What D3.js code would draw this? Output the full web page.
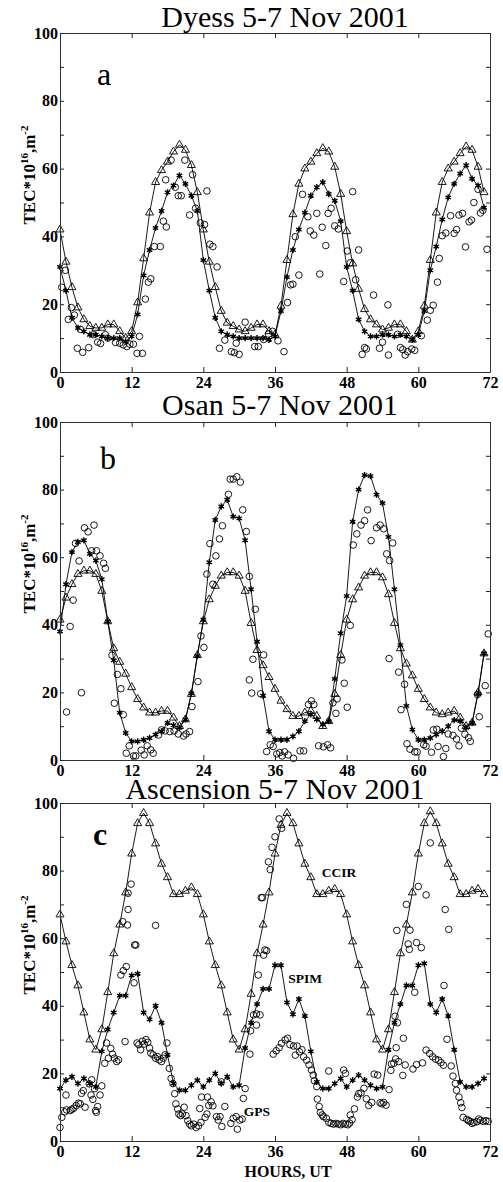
<!DOCTYPE html>
<html><head><meta charset="utf-8">
<script src="https://cdn.jsdelivr.net/npm/d3@7"></script>
<style>body{margin:0;background:#fff}</style>
</head><body>
<svg id="chart" width="503" height="1182"></svg>
<script>
// ---------- data ----------
const hours = [0,1,2,3,4,5,6,7,8,9,10,11,12,13,14,15,16,17,18,19,20,21,22,23,
  24,25,26,27,28,29,30,31,32,33,34,35,36,37,38,39,40,41,42,43,44,45,46,47,
  48,49,50,51,52,53,54,55,56,57,58,59,60,61,62,63,64,65,66,67,68,69,70,71];
const xTicks = [0,12,24,36,48,60,72];
const yTicks = [0,10,20,30,40,50,60,70,80,90,100];
const titles = ["Dyess 5-7 Nov 2001","Osan 5-7 Nov 2001","Ascension 5-7 Nov 2001"];
const letters = ["a","b","c"];
const seriesNames = ["CCIR","SPIM","GPS"];

// Panel a (Dyess)
const ccirA = [42,32.5,25,19,15.5,13.5,13,13,14,14,12,10,12,20.5,33.5,47,56,59.5,62,65,67,65.5,61,53,
  42,32.5,25,18,14.5,13.5,12.5,12,13,14,14,12,11,19.5,33,46.5,55.5,60,62,64.5,66,65,60.5,52.5,
  41.5,32,24.5,18.5,15.5,14,12.5,13,14,14,12,9.5,12,19.5,33,47,56,60,62,64.5,66.5,65.5,60.5,53];
const spimA = [31,24,16,13,12,11,11,10.5,10,10,10,9,10.5,17,28.5,36,42.5,47.5,53,55,58,55.5,52,47.5,
  33,24,16,12,11,10.5,10,10,10,10,10,9.5,10.5,18,28,36,42,47,52,54.5,56,52.5,50.5,44.5,
  31,24,15.5,12,10.5,10.5,11,11,10.5,11,10.5,9.5,11,18,30,37,45,51.5,55.5,58.5,61,57,55,48.5];
const gpsA = [[0.3,25],[0.9,30],[1.4,15.5],[1.9,19],[2.4,16.8],[2.9,7],[3.4,12.6],[3.8,5.8],[4.8,7.2],[5.6,11],
  [6.3,8.8],[6.8,8.4],[7.6,11],[8,10],[9.3,8.7],[10,8.5],[10.6,8],[11.2,7.5],[11.7,8.2],[12.3,8.2],[12.9,5.5],
  [13.3,10.5],[13.8,5.5],[14.3,21.5],[14.8,26.5],[15.2,27.5],[15.8,37],[16.8,37],[17.3,44.5],[17.8,42.8],
  [17.7,56.7],[18.6,62.5],[19.3,54.5],[19.8,52],[20.3,52],[20.9,62.5],[21.7,46.3],[22.2,58.2],[22.7,48.3],
  [23.5,44],[24.6,53.4],[24.2,43.5],[25.1,37.7],[25.6,37],[26.3,31],[26.7,7],[27.6,9.4],[28.7,6],[29.2,5.7],
  [30,5.2],[29.5,8.5],[31,14.7],[32.6,7.5],[33.2,7.5],[34.1,9.6],[34.9,11.2],[35.6,12],[36.5,9.2],[37.5,6],
  [38.1,20.5],[38.6,25.7],[39,25.9],[39.4,39.9],[40,28.6],[40.6,52.4],[41.5,45.8],[41.9,41.6],[42.5,40.4],
  [43,46.8],[43.5,28.9],[43.9,42.7],[44.5,37.3],[44.9,46.8],[45.4,48.3],[46,43.1],[46.6,42.2],[47.5,26.7],
  [48.1,35.7],[48.6,32.2],[49,53.2],[49.5,27.2],[50,36],[50.6,5.2],[51,7.2],[51.3,6.8],[52.5,22.7],[53.5,7],
  [54,8.8],[54.9,19.8],[55,5],[56.5,11.1],[57,7.2],[57.4,6.6],[57.8,5],[58.2,6],[58.9,6.8],[59.4,6.4],
  [60.5,10.7],[61.5,15.3],[62,18.2],[62.5,19.7],[63.2,26.5],[63.5,33.5],[64,40.2],[64.6,41],[65.4,46.1],
  [66,40.9],[66.4,42],[66.8,46.3],[67.4,46.8],[67.9,36.9],[68.5,44.3],[68.9,44.8],[69.3,50],[70,53.9],
  [70.4,46.9],[70.8,47.7],[71.5,36.2]];

// Panel b (Osan)
const ccirB = [41.5,48,52,55,56,56,55,50,41,33,29,25.5,21.5,18,15.5,14,14,14.5,14.5,12.5,10,12,19.5,31,
  41,47.5,51.5,54.5,55.5,55.5,54.5,50,40.5,32.5,28,24.5,21,17.5,15,13,13,14,14.5,13,10,11.5,19.5,31,
  41.5,47.5,51,54.5,55.5,55.5,54,49,40.5,33,28.5,25,21,18,15.5,14,13.5,14,14.5,12.5,10,11,20,31.5];
const spimB = [38,52,61.5,64.5,65,61,59,53.5,41,29.5,14,8,5.5,5.5,6,6.5,7.5,8.5,11,10.3,9.5,12,19.7,30.8,
  41.5,58.5,71,75,77,72,71.5,65,50.5,35,19,8.5,6,6,6,7,8.5,11.5,13.5,12,10.5,11.5,24,37.5,
  48.5,70.5,80,84.3,84,78.5,76,66,50.5,34,16,9,6,6,6.5,7.5,8.5,10,11.8,11.5,9.5,11,19.5,31.5];
const gpsB = [[1.1,14.2],[1.7,39.5],[2.2,47.3],[2.6,64.1],[3.2,58.9],[3.6,19.9],[4.1,68.7],[4.7,67.5],[5.3,61.9],
  [5.7,69.5],[6.1,61.9],[6.7,60.4],[7.3,58.2],[7.6,56.7],[8.7,31],[9.1,16.8],[9.6,25.3],[10.2,21.1],[10.6,13.4],
  [11.1,2],[11.6,4.2],[12.3,1.2],[12.7,1.2],[13.6,2.9],[14.1,1.5],[14.6,4.2],[15.2,3],[15.6,2],[16.5,7.4],
  [17,8.9],[17.6,8.6],[18.4,8.4],[19.1,8.6],[19.8,7.7],[20.7,7.1],[21.1,7.7],[21.7,8.4],[22.1,15.8],[23.1,23.2],
  [23.6,36.7],[24.1,33.3],[24.6,55],[25.1,64],[25.6,52],[26.1,60.4],[26.7,65.4],[27.2,69.3],[28.2,78.6],
  [28.5,83.1],[29,83.1],[29.6,83.8],[30.2,82.2],[30.6,74],[31.2,67.6],[31.7,54.3],[31.7,23.7],[32.1,19.8],
  [32.3,29.8],[32.7,44.6],[33.6,19.6],[34.1,31.1],[34.6,2.5],[35.2,4.5],[35.7,4],[36.3,1.8],[36.8,2.2],
  [37.2,1.2],[37.6,2.4],[38.2,1.5],[39.1,0.5],[40.2,2.7],[40.8,2.7],[41.6,16.4],[42.1,17.5],[42.5,16.4],
  [43.3,4.2],[44.1,3.9],[44.8,4.5],[45.3,3.6],[45.7,16.9],[46.2,13.8],[46.4,18.1],[47.2,29.6],[47.6,22.7],
  [48.1,15.6],[48.6,39.8],[49.1,63.6],[49.7,66.9],[50.4,69.5],[51,70.8],[51.5,74],[52.1,64.9],[53,68.7],
  [53.6,69.5],[54.2,68.4],[54.7,61],[55.2,59],[55.7,64.2],[55.1,30],[56.7,26],[57.1,14.9],[57.7,22.4],
  [58.1,4.8],[58.6,3.2],[59.4,2.4],[59.8,2.4],[60.9,4.5],[61.3,4.1],[62.2,2.3],[62.5,8.9],[63.1,9.1],
  [63.3,4],[64.2,1],[64.6,3.4],[65,7.7],[65.8,7.3],[66.4,6.2],[66.8,4.2],[67.2,9.4],[67.8,7.6],[68.4,6.6],
  [68.7,5.5],[69.9,19.4],[70.2,12.8],[71.2,22],[71.7,37.3]];

// Panel c (Ascension)
const ccirC = [67,59,52,46,38,30,27,33,44,55.5,64,73.5,85,94,97,94,88,82,78,73,73,74,75,73,
  67,59,52,46,38,30,27,33,43.5,55.5,64,73.5,85,93.5,97,94,88,82,78,73,73,74,74.5,73,
  67,59,52,46,38,30,27,33,44,55.5,64,73.5,85,94,97.5,94,88,82,78,73,73,74,74.5,73];
const spimC = [15.5,18,19,17,18.5,17,16,26.5,33,38,43,43,49,49.5,38,36,40,35,25.5,17,15,15,16.5,18,
  16,18,20,17,19,16,16.5,27.5,35,40.5,45,45,52,52,41,37.5,42,37,26.5,17.5,15.5,15.5,17,18.5,
  16,18,19.5,18,16.5,15.5,16,27,35,40.5,46,46,52,52.5,40.5,38,42,37,27,17.5,16,16,17,18.5];
const gpsC = [[0,4],[0.3,7],[0.8,8.6],[1.1,9.2],[1,13.6],[1.7,9],[2,9.4],[2.3,9.7],[2.7,10.5],[3.1,11.2],
  [3.4,11],[3.6,14.1],[3.9,14.9],[4.2,10],[4.9,16.9],[5.3,18.1],[5.2,13.6],[5.5,12.3],[5.8,15.5],[5.95,9],
  [6.1,8.5],[6.3,10.2],[6.7,13.6],[7,16.3],[7.5,23],[7.8,29],[8.1,24.5],[8.5,27.4],[8.8,25.7],[9.1,24.5],
  [9.5,23.5],[9.8,24],[10.2,49.1],[10.6,50.4],[11.1,51.6],[10.5,64.9],[11.3,63.9],[11.4,68.5],[11.4,73.3],
  [11.9,76],[12.5,58],[12.7,58],[10.9,29.4],[12.4,46.8],[16,63.8],
  [12.9,29],[13.2,28.5],[13.5,27],[13.8,29.5],[14.1,28.7],[14.4,30],[14.7,29.2],[15,27.5],[15.2,26],
  [15.6,25.5],[16,24.5],[16.3,25],[16.6,24],[17,23.5],[17.3,24.5],[17.6,25.5],[17.9,29],[18.3,21.5],
  [18.6,18.5],[18.9,17],[19.2,14],[19.4,11],[19.7,9.5],[19.9,8],[20.2,7.5],[20.5,8],[20.8,10],[21.1,7.5],
  [21.4,6],[21.7,5],[22,4.5],[22.4,5],[22.8,4],[23.2,4.5],[23.6,5.5],[23.4,9.6],[23.7,13],[24.3,7],[24.6,8],
  [24.9,10.5],[24.7,13],[25.3,11.6],[25.6,10.4],[26.2,7.2],[26.5,6.2],[26.8,7.2],[27,17.5],[27.1,4.3],
  [27.6,10.2],[28.6,5.2],[29,6.7],[29.5,7.2],[29.7,3.5],[30.1,6.2],[30.5,6.5],[30.7,12.6],[31,15.5],
  [31.8,25.7],[31.9,32.6],[32.4,37.3],[32.9,37.6],[33.5,37.3],[32.9,34.3],[33.2,49.1],[33.7,72],[33.9,72],
  [34.3,56.5],[34.1,55],[34.6,56.3],[34.9,82.6],[35.2,80.3],[35.5,86.9],[36,90],[36.7,95.3],[37.1,92.5],
  [35.7,25.7],[36.2,26.7],[36.7,27.6],[37.1,28.9],[37.7,29.9],[38.1,30.4],[38.5,28.5],[39.1,28.1],[39.4,25.4],
  [39.7,28.1],[40.1,26.4],[40.5,27],[40.8,24.9],[41.3,23.9],[41.7,22.5],[42.1,21],[42.4,19.5],[42.6,17.8],
  [43,16.1],[43.1,12.4],[43.4,10.2],[43.6,8.4],[43.9,7.7],[44.1,7.2],[44.6,6.7],[45,5.5],[45.4,5.2],
  [45.8,5],[46.2,5.2],[46.6,5],[47,4.8],[47.4,5.2],[47.8,5],[48.2,4.8],[48.5,5.3],[48.9,6.3],[45,20.7],
  [47.5,21],[47.8,20],[48.6,7.7],[49.3,9.5],[49.8,13],[50,14],[50.4,14.2],[50.9,15.6],[51.3,12.5],[51.7,10.5],
  [52.2,11.4],[52.6,19.8],[53.2,19.5],[53.6,11.3],[53.9,11],[54.2,11.4],[54.6,10.6],[55.1,15.2],[55.4,20.9],
  [55.9,23],[56.2,24.3],[56.3,27.6],[55.5,22.8],[56.7,23.5],[57.4,19.4],[57.8,22.5],[59.1,21.3],[59.7,22.6],
  [60.7,23.1],[61.3,26.9],[61.9,25.9],[62.4,24.9],[62.9,24.2],[63.4,23.9],[63.8,23.2],[64.2,22.4],[65.5,22.2],
  [65.8,19.2],[66.2,17],[66.4,15],[66.8,13],[67.1,11.3],[67.3,9.9],[67.5,7],[68.1,6.4],[68.4,6],[68.7,5.8],
  [69,5.2],[69.3,5.5],[69.8,5.7],[70.1,6.5],[70.4,6.1],[70.9,5.8],[71.3,6],[71.7,5.8],
  [57.5,30.4],[56.5,35],[56.1,36.9],[58.3,58.3],[58.5,56.7],[59.7,58.7],[60.5,57.2],[58.6,62.4],[59.4,44],
  [64.3,46],[64.8,30.1],[60,75.3],[61.3,72.8],[64.5,68.5],[65.1,62.6],[56.4,62.3],[58,70],[62,88.2]];

// ---------- layout ----------
const SERIF = "'Liberation Serif','Times New Roman',Times,serif";
const svg = d3.select("#chart");
const x = d3.scaleLinear().domain([0,72]).range([60,490]);

const panels = [
  {top:33, bottom:372, title:titles[0], tx:285, ty:27, letter:letters[0], lx:104, ly:85, lw:"normal",
   ccir:ccirA, spim:spimA, gps:gpsA},
  {top:422, bottom:760, title:titles[1], tx:280, ty:415, letter:letters[1], lx:108, ly:469, lw:"normal",
   ccir:ccirB, spim:spimB, gps:gpsB},
  {top:803, bottom:1141, title:titles[2], tx:275, ty:799, letter:letters[2], lx:100, ly:845, lw:"bold",
   ccir:ccirC, spim:spimC, gps:gpsC, seriesLabels:true, xLabel:"HOURS, UT"}
];

// 6-arm asterisk symbol
const asterisk = {
  draw(ctx, size) {
    const r = Math.sqrt(size) / 2;
    for (let k = 0; k < 3; k++) {
      const a = Math.PI / 2 + k * Math.PI / 3;
      const dx = r * Math.cos(a), dy = r * Math.sin(a);
      ctx.moveTo(dx, dy); ctx.lineTo(-dx, -dy);
    }
  }
};

function styleAxis(g) {
  g.attr("font-family", SERIF).attr("font-size", 16).attr("font-weight", "bold");
  g.select(".domain").attr("stroke", "#333").attr("stroke-width", 1);
  g.selectAll(".tick line").attr("stroke", "#222").attr("stroke-width", 1);
  g.selectAll(".tick text").attr("fill", "#000");
}

panels.forEach(p => {
  const y = d3.scaleLinear().domain([0,100]).range([p.bottom, p.top]);
  const g = svg.append("g");

  // GPS circles
  g.append("g").selectAll("circle").data(p.gps).join("circle")
    .attr("cx", d => x(d[0])).attr("cy", d => y(d[1])).attr("r", 3.3)
    .attr("fill", "none").attr("stroke", "#000").attr("stroke-width", 0.9);

  const line = d3.line().x((d,i) => x(hours[i])).y(d => y(d));

  // CCIR
  g.append("path").datum(p.ccir).attr("d", line)
    .attr("fill", "none").attr("stroke", "#000").attr("stroke-width", 0.9);
  g.append("g").selectAll("path").data(p.ccir).join("path")
    .attr("transform", (d,i) => `translate(${x(hours[i])},${y(d)})`)
    .attr("d", d3.symbol().type(d3.symbolTriangle).size(28))
    .attr("fill", "none").attr("stroke", "#000").attr("stroke-width", 0.9);

  // SPIM
  g.append("path").datum(p.spim).attr("d", line)
    .attr("fill", "none").attr("stroke", "#000").attr("stroke-width", 0.9);
  g.append("g").selectAll("path").data(p.spim).join("path")
    .attr("transform", (d,i) => `translate(${x(hours[i])},${y(d)})`)
    .attr("d", d3.symbol().type(asterisk).size(40))
    .attr("fill", "none").attr("stroke", "#000").attr("stroke-width", 1.4);
  g.append("g").selectAll("circle").data(p.spim).join("circle")
    .attr("cx", (d,i) => x(hours[i])).attr("cy", d => y(d)).attr("r", 1.5).attr("fill", "#000");

  // axes
  const fmtY = d => (d % 20 === 0 ? d : "");
  g.append("g").attr("transform", `translate(0,${p.bottom})`)
    .call(d3.axisBottom(x).tickValues(xTicks).tickSize(-5).tickSizeOuter(0).tickPadding(5))
    .call(styleAxis);
  g.append("g").attr("transform", `translate(0,${p.top})`)
    .call(d3.axisTop(x).tickValues(xTicks).tickSize(-5).tickSizeOuter(0).tickFormat(""))
    .call(styleAxis);
  g.append("g").attr("transform", `translate(60,0)`)
    .call(d3.axisLeft(y).tickValues(yTicks).tickSize(-4).tickSizeOuter(0).tickPadding(2).tickFormat(fmtY))
    .call(styleAxis);
  g.append("g").attr("transform", `translate(490,0)`)
    .call(d3.axisRight(y).tickValues(yTicks).tickSize(-4).tickSizeOuter(0).tickFormat(""))
    .call(styleAxis);

  // title
  svg.append("text").attr("x", p.tx).attr("y", p.ty).attr("text-anchor", "middle")
    .attr("font-family", SERIF).attr("font-size", 30).attr("fill", "#000").text(p.title);

  // panel letter
  svg.append("text").attr("x", p.lx).attr("y", p.ly).attr("text-anchor", "middle")
    .attr("font-family", SERIF).attr("font-size", 32).attr("font-weight", p.lw).attr("fill", "#000").text(p.letter);

  // y-axis label
  const yl = svg.append("text")
    .attr("transform", `translate(35,${p.top + 142}) rotate(-90)`)
    .attr("text-anchor", "middle").attr("font-family", SERIF).attr("font-weight", "bold")
    .attr("font-size", 17).attr("fill", "#000");
  yl.append("tspan").text("TEC*10");
  yl.append("tspan").attr("dy", -7.5).attr("font-size", 11).text("16");
  yl.append("tspan").attr("dy", 7.5).text(",m");
  yl.append("tspan").attr("dy", -7.5).attr("font-size", 11).text("-2");

  if (p.seriesLabels) {
    const lab = [[seriesNames[0], 339, 877], [seriesNames[1], 305, 982.5], [seriesNames[2], 257, 1116]];
    lab.forEach(l => svg.append("text").attr("x", l[1]).attr("y", l[2]).attr("text-anchor", "middle")
      .attr("font-family", SERIF).attr("font-weight", "bold").attr("font-size", 13.5).attr("fill", "#000").text(l[0]));
  }
  if (p.xLabel) {
    svg.append("text").attr("x", 288).attr("y", 1177).attr("text-anchor", "middle")
      .attr("font-family", SERIF).attr("font-weight", "bold").attr("font-size", 16).attr("fill", "#000").text(p.xLabel);
  }
});
</script>
</body></html>
